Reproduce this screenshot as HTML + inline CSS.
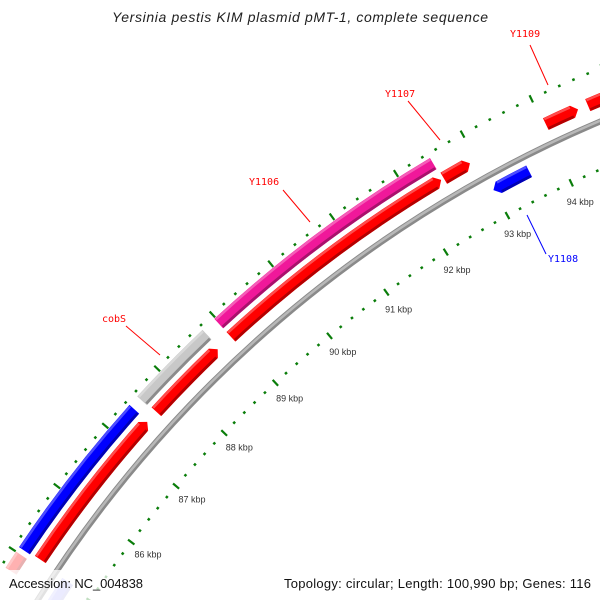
<!DOCTYPE html>
<html><head><meta charset="utf-8"><style>
html,body{margin:0;padding:0;background:#fff;width:600px;height:600px;overflow:hidden}
svg{display:block;overflow:hidden}
</style></head><body>
<svg id="map" xmlns="http://www.w3.org/2000/svg" width="600" height="600" viewBox="0 0 600 600">
<rect width="600" height="600" fill="#fff"/>
<g id="ticks"></g>
<g id="feats"></g>
<g id="labels">
<line x1="530" y1="45" x2="548" y2="85" stroke="#f00" stroke-width="1"/>
<text x="510" y="37" fill="#f00" font-family="DejaVu Sans Mono, Liberation Mono, monospace" font-size="10">Y1109</text>
<line x1="408" y1="101" x2="440" y2="140" stroke="#f00" stroke-width="1"/>
<text x="385" y="97" fill="#f00" font-family="DejaVu Sans Mono, Liberation Mono, monospace" font-size="10">Y1107</text>
<line x1="283" y1="190" x2="310" y2="222" stroke="#f00" stroke-width="1"/>
<text x="249" y="185" fill="#f00" font-family="DejaVu Sans Mono, Liberation Mono, monospace" font-size="10">Y1106</text>
<line x1="126" y1="326" x2="160" y2="355" stroke="#f00" stroke-width="1"/>
<text x="102" y="322" fill="#f00" font-family="DejaVu Sans Mono, Liberation Mono, monospace" font-size="10">cobS</text>
<line x1="546" y1="254" x2="527" y2="215" stroke="#00f" stroke-width="1"/>
<text x="548" y="262" fill="#00f" font-family="DejaVu Sans Mono, Liberation Mono, monospace" font-size="10">Y1108</text>
</g>
<text x="300" y="22" text-anchor="middle" font-family="Liberation Sans, sans-serif" font-style="italic" font-size="14" fill="#222" textLength="376">Yersinia pestis KIM plasmid pMT-1, complete sequence</text>
<rect x="0" y="570" width="600" height="30" fill="#fff" fill-opacity="0.75"/>
<text x="9" y="588" font-family="Liberation Sans, sans-serif" font-size="13" fill="#111" textLength="134">Accession: NC_004838</text>
<text x="591" y="588" text-anchor="end" font-family="Liberation Sans, sans-serif" font-size="13" fill="#111" textLength="307">Topology: circular; Length: 100,990 bp; Genes: 116</text>
</svg>
<script>
// data
const featStart = [85.07, 87.56, 88.98, 85.09, 87.58, 88.98, 92.50, 94.03, 94.64, 93.00, 84.75, 84.55];
const featEnd   = [87.41, 88.77, 92.48, 87.40, 88.74, 92.46, 92.90, 94.50, 100.0, 93.55, 85.00, 85.05];
const featLane  = ["outer","outer","outer","mid","mid","mid","mid","mid","mid","inner","outer","inner"];
const featDir   = [0, 0, 0, 1, 1, 1, 1, 1, 1, -1, 0, 0];
const featColor = ["#0000ff","#c8c8c8","#f0189a","#ff0000","#ff0000","#ff0000","#ff0000","#ff0000","#ff0000","#0000ff","#ff0000","#0000ff"];
const featName  = ["blue-gene","cobs-gene","y1106-gene","red-gene-a","red-gene-b","red-gene-c","y1107-gene","y1109-gene","red-gene-f","y1108-gene","faded-red-gene","faded-blue-gene"];
const tickKbp   = [84,85,86,87,88,89,90,91,92,93,94,95,96];
const tickLabels= ["84 kbp","85 kbp","86 kbp","87 kbp","88 kbp","89 kbp","90 kbp","91 kbp","92 kbp","93 kbp","94 kbp","95 kbp","96 kbp"];

const NS="http://www.w3.org/2000/svg";
const CX=1084, CY=1260, A0=-143.0, DEG=3.443;
const R_BACK=1237, R_INNER_T=1193, R_OUTER_T=1286, R_LABEL=1172;
const laneR={outer:1275, mid:1257, inner:1222};
const LANE_W=13;
function ang(k){return (A0+(k-86)*DEG)*Math.PI/180;}
function pt(k,r){const a=ang(k);return [CX+r*Math.cos(a),CY+r*Math.sin(a)];}
function arcD(k1,k2,r){const p1=pt(k1,r),p2=pt(k2,r);return `M${p1[0].toFixed(2)},${p1[1].toFixed(2)} A${r},${r} 0 0 1 ${p2[0].toFixed(2)},${p2[1].toFixed(2)}`;}
function mk(tag,attrs,parent){const e=document.createElementNS(NS,tag);for(const k in attrs)e.setAttribute(k,attrs[k]);parent.appendChild(e);return e;}

const tg=document.getElementById('ticks');
const fg=document.getElementById('feats');

const bb=mk('path',{d:arcD(84,100,R_BACK),fill:'none',stroke:'#8a8a8a','stroke-width':6},fg);


const bb2=mk('path',{d:arcD(84,100,R_BACK+0.8),fill:'none',stroke:'#b8b8b8','stroke-width':2.5},fg);



for(let i=0;i<=70;i++){
  const k=84+i*0.2;
  const major=(i%5===0);
  const len=major?8:2.5;
  [[R_OUTER_T,'outer'],[R_INNER_T,'inner']].forEach(([r,nm])=>{
    const p1=pt(k,r-len/2),p2=pt(k,r+len/2);
    const l=mk('line',{x1:p1[0],y1:p1[1],x2:p2[0],y2:p2[1],stroke:'#0a7d0a','stroke-width':major?2.2:2.6},tg);
    
    
  });
}
tickKbp.forEach((k,i)=>{
  const p=pt(k,R_LABEL);
  const t=mk('text',{x:p[0],y:p[1]+3,'text-anchor':'middle','font-family':'Liberation Sans, sans-serif','font-size':9,fill:'#333'},tg);
  t.textContent=tickLabels[i];
  
  
});

function featPath(k1,k2,rc,dir){
  const ri=rc-LANE_W/2, ro=rc+LANE_W/2;
  const ah=6/rc*180/Math.PI/DEG;
  let b1=k1,b2=k2;
  if(dir===1)b2=Math.max(k1,k2-ah);
  if(dir===-1)b1=Math.min(k2,k1+ah);
  const o1=pt(b1,ro),o2=pt(b2,ro),i1=pt(b1,ri),i2=pt(b2,ri);
  let d=`M${o1[0]},${o1[1]} A${ro},${ro} 0 0 1 ${o2[0]},${o2[1]} `;
  if(dir===1){const t=pt(k2,rc);d+=`L${t[0]},${t[1]} `;}
  d+=`L${i2[0]},${i2[1]} A${ri},${ri} 0 0 0 ${i1[0]},${i1[1]} `;
  if(dir===-1){const t=pt(k1,rc);d+=`L${t[0]},${t[1]} `;}
  return {d:d+'Z',b1,b2,ri,ro};
}
function shade(c,f){const n=parseInt(c.slice(1),16);let r=n>>16,g=(n>>8)&255,b=n&255;
  if(f<0){r=Math.round(r*(1+f));g=Math.round(g*(1+f));b=Math.round(b*(1+f));}
  else{r=Math.round(r+(255-r)*f);g=Math.round(g+(255-g)*f);b=Math.round(b+(255-b)*f);}
  return `rgb(${r},${g},${b})`;}
featStart.forEach((s,i)=>{
  const rc=laneR[featLane[i]];
  const fp=featPath(s,featEnd[i],rc,featDir[i]);
  const faded=(i>=10);
  const g=mk('g',{opacity:faded?0.3:1},fg);
  
  
  const p=mk('path',{d:fp.d,fill:featColor[i]},g);
  
  
  const dk=mk('path',{d:arcD(fp.b1+0.01,fp.b2-0.01,fp.ri+1.4),fill:'none',stroke:shade(featColor[i],-0.3),'stroke-width':2.8},g);
  
  
  const lt=mk('path',{d:arcD(fp.b1+0.01,fp.b2-0.01,fp.ro-1.5),fill:'none',stroke:shade(featColor[i],0.3),'stroke-width':2.4},g);
  
  
});
</script>
</body></html>
